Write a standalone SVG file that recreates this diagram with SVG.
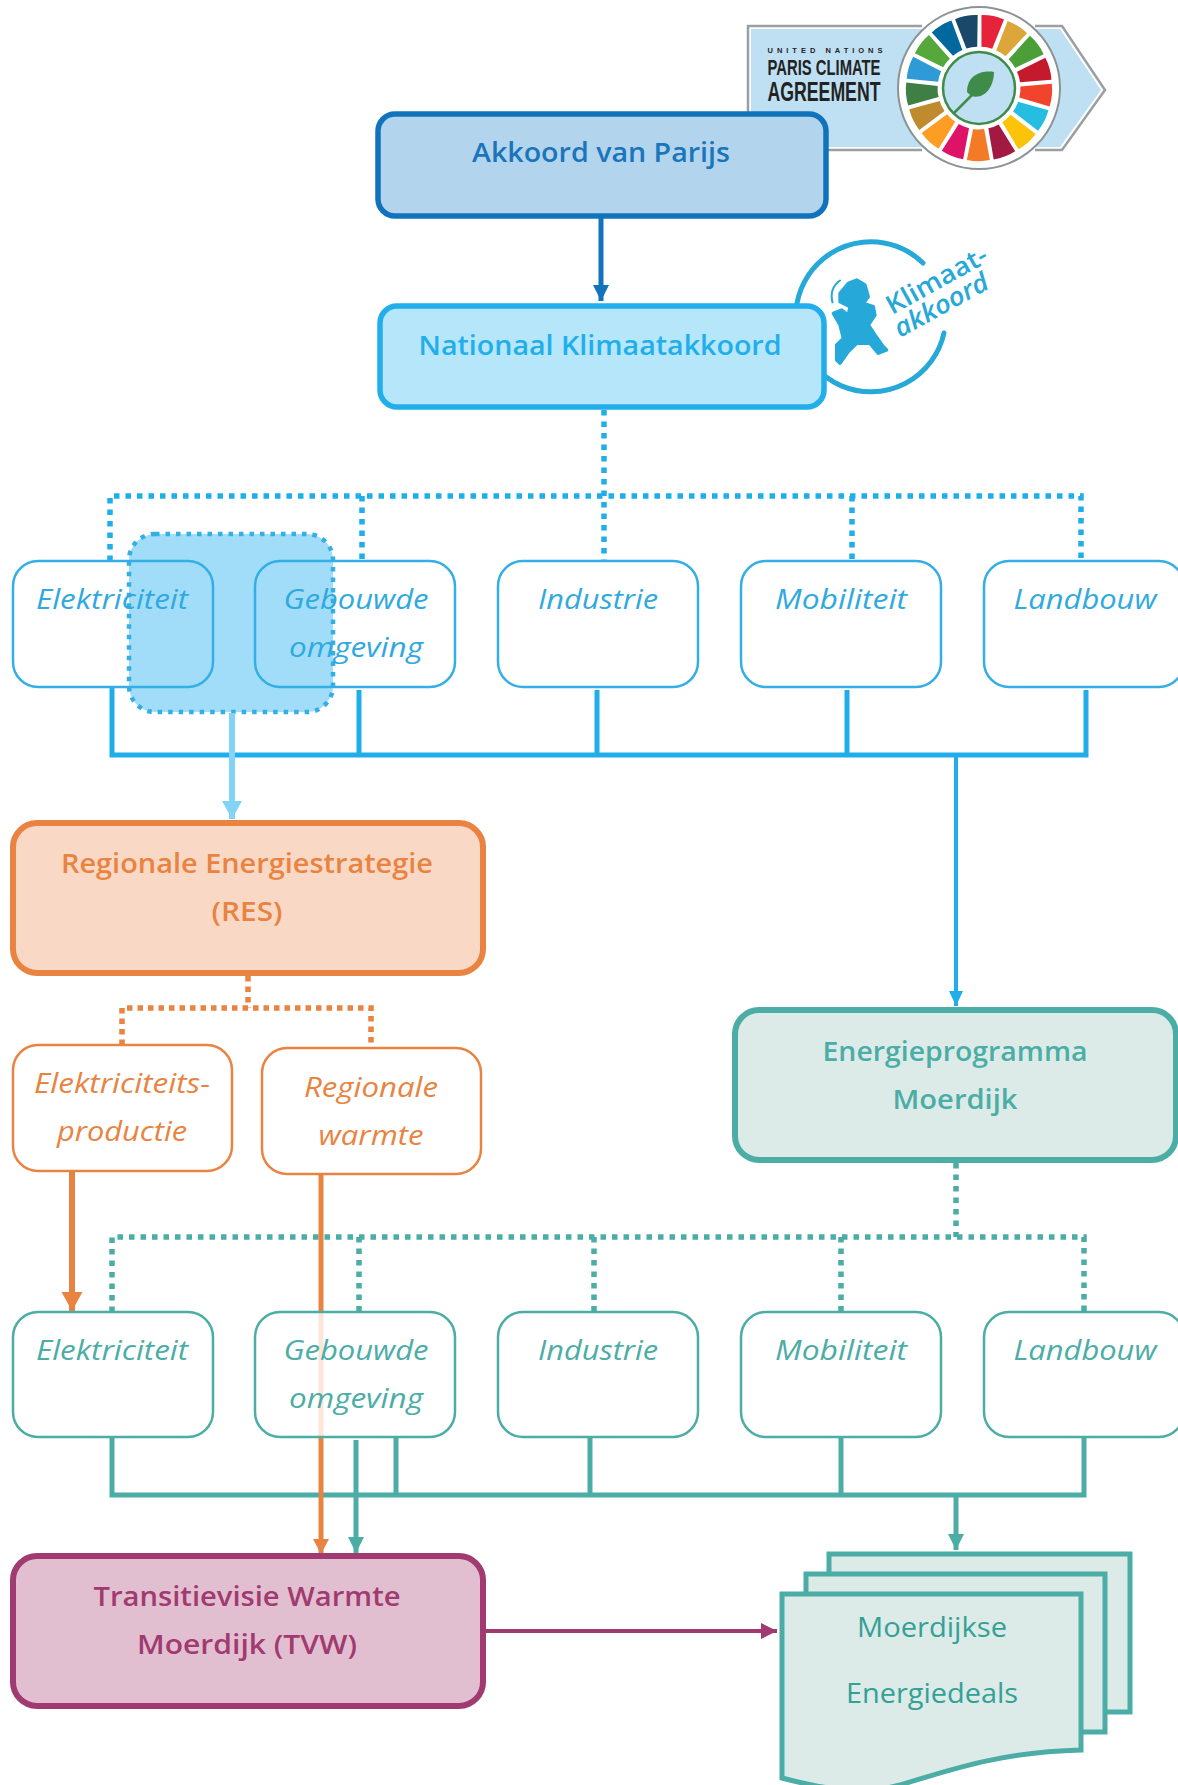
<svg xmlns="http://www.w3.org/2000/svg" width="1178" height="1785" viewBox="0 0 1178 1785">
<style>
text{font-family:"Open Sans","Liberation Sans",sans-serif;text-anchor:middle}
.t{font-size:27px;font-weight:600}
.s{font-size:27px;font-style:italic}
.b{fill:#fff;fill-opacity:.8;stroke-width:2.5}
.bb{fill:none;stroke-width:2.5}
.blue .bb{stroke:#34afe6}.blue text{fill:#2fa9e0}
.green .b{stroke:#4bada5}.green text{fill:#4bada5}
.or .b,.or .bb{stroke:#e98341}.or text{fill:#e98341}
.l{fill:none}
.lb{stroke:#20aeea}.lg{stroke:#4bada5}.lo{stroke:#e98341}
.dot{stroke-dasharray:5.5 6;stroke-width:5.5}
.doc{fill:#dcebe8;stroke:#4bada5;stroke-width:5}
.logo{font-family:"Liberation Sans",sans-serif;font-weight:700;fill:#222}
.kl{font-family:"Open Sans",sans-serif;font-size:26px;font-weight:600;fill:#26a9d8}
</style>
<defs>
<path id="w" d="M-5.5,-41 L-11.5,-72 Q0,-74.5 11.5,-72 L5.5,-41 Q0,-42 -5.5,-41Z"/>
<marker id="a1" markerUnits="userSpaceOnUse" markerWidth="16" markerHeight="18" refX="16" refY="8" orient="auto"><path d="M0,0L16,8L0,16Z" fill="#1273bd"/></marker>
<marker id="a2" markerUnits="userSpaceOnUse" markerWidth="20" markerHeight="22" refX="18" refY="10" orient="auto"><path d="M0,0L18,10L0,20Z" fill="#83d3f6"/></marker>
<marker id="a3" markerUnits="userSpaceOnUse" markerWidth="16" markerHeight="18" refX="15" refY="8" orient="auto"><path d="M0,1L15,8L0,15Z" fill="#20aeea"/></marker>
<marker id="a4" markerUnits="userSpaceOnUse" markerWidth="20" markerHeight="22" refX="19" refY="10.5" orient="auto"><path d="M0,0L19,10.5L0,21Z" fill="#e98341"/></marker>
<marker id="a5" markerUnits="userSpaceOnUse" markerWidth="16" markerHeight="18" refX="15" refY="8" orient="auto"><path d="M0,0L15,8L0,16Z" fill="#e98341"/></marker>
<marker id="a6" markerUnits="userSpaceOnUse" markerWidth="17" markerHeight="18" refX="16" refY="8" orient="auto"><path d="M0,0L16,8L0,16Z" fill="#4bada5"/></marker>
<marker id="a7" markerUnits="userSpaceOnUse" markerWidth="17" markerHeight="18" refX="16" refY="8" orient="auto"><path d="M0,0L16,8L0,16Z" fill="#a13a70"/></marker>
</defs>
<rect width="1178" height="1785" fill="#fff"/>

<g id="logo-paris">
<path d="M751,29H1060L1101,90L1060,147H751Z" fill="#bfe0f3"/>
<path d="M922,26H748V150H922M1035,26H1062L1105,90L1062,150H1035" fill="none" stroke="#9a9fa3" stroke-width="2.5"/>
<text class="logo" x="825" y="53" font-size="7.5" textLength="115" lengthAdjust="spacing">UNITED NATIONS</text>
<text class="logo" x="824" y="75" font-size="22" textLength="113" lengthAdjust="spacingAndGlyphs">PARIS CLIMATE</text>
<text class="logo" x="824" y="101" font-size="27" textLength="113" lengthAdjust="spacingAndGlyphs">AGREEMENT</text>
<g transform="translate(979,88)">
<circle r="81" fill="#fff" stroke="#8c9396" stroke-width="2"/>
<use href="#w" fill="#e5243b" transform="rotate(11)"/>
<use href="#w" fill="#dda63a" transform="rotate(32.2)"/>
<use href="#w" fill="#4c9f38" transform="rotate(53.4)"/>
<use href="#w" fill="#c5192d" transform="rotate(74.5)"/>
<use href="#w" fill="#f0442c" transform="rotate(95.7)"/>
<use href="#w" fill="#26bde2" transform="rotate(116.9)"/>
<use href="#w" fill="#fcc30b" transform="rotate(138.1)"/>
<use href="#w" fill="#a21942" transform="rotate(159.3)"/>
<use href="#w" fill="#f37b25" transform="rotate(180.5)"/>
<use href="#w" fill="#dd1367" transform="rotate(201.6)"/>
<use href="#w" fill="#fd9d24" transform="rotate(222.8)"/>
<use href="#w" fill="#bf8b2e" transform="rotate(244)"/>
<use href="#w" fill="#3f7e44" transform="rotate(265.2)"/>
<use href="#w" fill="#2f9bd6" transform="rotate(286.4)"/>
<use href="#w" fill="#56a83c" transform="rotate(307.6)"/>
<use href="#w" fill="#00689d" transform="rotate(328.7)"/>
<use href="#w" fill="#19486a" transform="rotate(349.9)"/>
<circle r="36" fill="#bfe0f3" stroke="#3f8c4a" stroke-width="2.5"/>
<path d="M-12,4C-12,-14 4,-18 15,-16C15,-2 6,12 -8,8Z" fill="#3f8c4a"/>
<path d="M-25,25L-2,2" stroke="#3f8c4a" stroke-width="2.5" fill="none"/>
</g>
</g>

<g id="logo-klimaat">
<path d="M923,263A75,75 0 1 0 944,333" fill="none" stroke="#26a9d8" stroke-width="5" stroke-linecap="round"/>
<g transform="translate(820,235) scale(.3333)" fill="#26a9d8" stroke="#26a9d8" stroke-linejoin="round">
<path stroke-width="10" d="M60,175L85,145L110,135L135,150L145,185L130,205L160,215L165,240L145,270L165,300L190,335L200,345L175,355L150,325L110,325L85,350L60,385L50,375L50,330L70,310L60,270L40,235L65,225L85,240L90,215L60,200Z"/>
<path fill="none" stroke-width="6" d="M62,135C40,150 30,175 38,205"/>
</g>
<text class="kl" transform="translate(892,315) rotate(-29)" style="text-anchor:start" textLength="112" lengthAdjust="spacingAndGlyphs">Klimaat-</text>
<text class="kl" transform="translate(900,338) rotate(-29)" style="text-anchor:start;font-style:italic" textLength="104" lengthAdjust="spacingAndGlyphs">akkoord</text>
</g>

<g id="connectors">
<path class="l" stroke="#1273bd" stroke-width="5" marker-end="url(#a1)" d="M601,216V301"/>
<g class="l lb dot">
<path d="M604,410V561"/>
<path d="M110,561V496H1081V561"/>
<path d="M362,496V561"/>
<path d="M852,496V561"/>
</g>
<g class="l lb" stroke-width="5">
<path d="M112,687V755H1086V690"/>
<path d="M359,690V755"/>
<path d="M597,690V755"/>
<path d="M847,690V755"/>
</g>
<path class="l lb" stroke-width="4" marker-end="url(#a3)" d="M956,755V1006"/>
<g class="l lo" stroke-width="5.5" stroke-dasharray="5.5 5">
<path d="M248,976V1008"/>
<path d="M122,1045V1008H371V1048"/>
</g>
<g class="l lg dot">
<path d="M956,1163V1237"/>
<path d="M112,1312V1237H1084V1312"/>
<path d="M359,1237V1312"/>
<path d="M594,1237V1312"/>
<path d="M841,1237V1312"/>
</g>
<path class="l lo" stroke-width="6" marker-end="url(#a4)" d="M72,1172V1311"/>
<g class="l lg" stroke-width="5">
<path d="M112,1438V1495H1084V1438"/>
<path d="M396,1438V1495"/>
<path d="M590,1438V1495"/>
<path d="M841,1438V1495"/>
</g>
<path class="l lg" stroke-width="5" marker-end="url(#a6)" d="M356,1440V1553"/>
<path class="l lg" stroke-width="5" marker-end="url(#a6)" d="M956,1495V1550"/>
<path class="l lo" stroke-width="5" marker-end="url(#a5)" d="M321,1175V1554"/>
<path class="l" stroke="#a13a70" stroke-width="4" marker-end="url(#a7)" d="M485,1631H777"/>
</g>

<g id="node-akkoord">
<rect x="378" y="114" width="448" height="102" rx="17" fill="#b3d4ed" stroke="#1273bd" stroke-width="5.5"/>
<text class="t" x="601" y="162" fill="#1a75bb" textLength="258" lengthAdjust="spacingAndGlyphs">Akkoord van Parijs</text>
</g>
<g id="node-nationaal">
<rect x="380" y="306" width="444" height="101" rx="17" fill="#b5e6fa" stroke="#22aeea" stroke-width="5.5"/>
<text class="t" x="600" y="355" fill="#22aeea" textLength="363" lengthAdjust="spacingAndGlyphs">Nationaal Klimaatakkoord</text>
</g>

<rect id="highlight" x="129" y="534" width="204" height="178" rx="26" fill="#6fcbf4" fill-opacity=".65" stroke="#34afe6" stroke-width="4.5" stroke-dasharray="4.5 6"/>
<path class="l" stroke="#83d3f6" stroke-width="6" marker-end="url(#a2)" d="M232,713V819"/>

<g id="sectors-klimaat" class="blue">
<g id="k-elektriciteit"><rect class="bb" x="13" y="561" width="200" height="126" rx="25"/><text class="s" x="112" y="609" textLength="152" lengthAdjust="spacingAndGlyphs">Elektriciteit</text></g>
<g id="k-gebouwde"><rect class="bb" x="255" y="561" width="200" height="126" rx="25"/><text class="s" x="356" y="609" textLength="145" lengthAdjust="spacingAndGlyphs">Gebouwde</text><text class="s" x="356" y="657" textLength="134" lengthAdjust="spacingAndGlyphs">omgeving</text></g>
<g id="k-industrie"><rect class="bb" x="498" y="561" width="200" height="126" rx="25"/><text class="s" x="598" y="609" textLength="120" lengthAdjust="spacingAndGlyphs">Industrie</text></g>
<g id="k-mobiliteit"><rect class="bb" x="741" y="561" width="200" height="126" rx="25"/><text class="s" x="841" y="609" textLength="132" lengthAdjust="spacingAndGlyphs">Mobiliteit</text></g>
<g id="k-landbouw"><rect class="bb" x="984" y="561" width="200" height="126" rx="25"/><text class="s" x="1085" y="609" textLength="143" lengthAdjust="spacingAndGlyphs">Landbouw</text></g>
</g>

<g id="node-res">
<rect x="13" y="823" width="470" height="150" rx="24" fill="#f9d9c5" stroke="#e98341" stroke-width="6"/>
<text class="t" x="247" y="873" fill="#e98341" textLength="372" lengthAdjust="spacingAndGlyphs">Regionale Energiestrategie</text>
<text class="t" x="247" y="921" fill="#e98341" textLength="71" lengthAdjust="spacingAndGlyphs">(RES)</text>
</g>
<g id="sectors-res" class="or">
<g id="r-elektriciteit"><rect class="b" x="13" y="1045" width="219" height="126" rx="25"/><text class="s" x="122" y="1093" textLength="176" lengthAdjust="spacingAndGlyphs">Elektriciteits-</text><text class="s" x="122" y="1141" textLength="130" lengthAdjust="spacingAndGlyphs">productie</text></g>
<g id="r-warmte"><rect class="b" x="262" y="1048" width="219" height="126" rx="25"/><text class="s" x="371" y="1097" textLength="134" lengthAdjust="spacingAndGlyphs">Regionale</text><text class="s" x="371" y="1145" textLength="105" lengthAdjust="spacingAndGlyphs">warmte</text></g>
</g>
<g id="node-energieprogramma">
<rect x="735" y="1010" width="441" height="150" rx="24" fill="#dcebe8" stroke="#4bada5" stroke-width="6"/>
<text class="t" x="955" y="1061" fill="#4bada5" textLength="265" lengthAdjust="spacingAndGlyphs">Energieprogramma</text>
<text class="t" x="955" y="1109" fill="#4bada5" textLength="125" lengthAdjust="spacingAndGlyphs">Moerdijk</text>
</g>
<g id="sectors-moerdijk" class="green">
<g id="m-elektriciteit"><rect class="b" x="13" y="1312" width="200" height="125" rx="25"/><text class="s" x="112" y="1360" textLength="152" lengthAdjust="spacingAndGlyphs">Elektriciteit</text></g>
<g id="m-gebouwde"><rect class="b" x="255" y="1312" width="200" height="125" rx="25"/><text class="s" x="356" y="1360" textLength="145" lengthAdjust="spacingAndGlyphs">Gebouwde</text><text class="s" x="356" y="1408" textLength="134" lengthAdjust="spacingAndGlyphs">omgeving</text></g>
<g id="m-industrie"><rect class="b" x="498" y="1312" width="200" height="125" rx="25"/><text class="s" x="598" y="1360" textLength="120" lengthAdjust="spacingAndGlyphs">Industrie</text></g>
<g id="m-mobiliteit"><rect class="b" x="741" y="1312" width="200" height="125" rx="25"/><text class="s" x="841" y="1360" textLength="132" lengthAdjust="spacingAndGlyphs">Mobiliteit</text></g>
<g id="m-landbouw"><rect class="b" x="984" y="1312" width="200" height="125" rx="25"/><text class="s" x="1085" y="1360" textLength="143" lengthAdjust="spacingAndGlyphs">Landbouw</text></g>
</g>
<g id="node-tvw">
<rect x="13" y="1556" width="470" height="150" rx="24" fill="#e1bfd0" stroke="#a13a70" stroke-width="6"/>
<text class="t" x="247" y="1606" fill="#a13a70" textLength="307" lengthAdjust="spacingAndGlyphs">Transitievisie Warmte</text>
<text class="t" x="247" y="1654" fill="#a13a70" textLength="220" lengthAdjust="spacingAndGlyphs">Moerdijk (TVW)</text>
</g>
<g id="node-energiedeals">
<rect class="doc" x="829" y="1554" width="301" height="158"/>
<rect class="doc" x="806" y="1574" width="299" height="158"/>
<path class="doc" d="M782,1594H1081V1750C1000,1752 950,1770 900,1785C860,1796 820,1788 782,1778Z"/>
<text x="932" y="1637" font-size="27" fill="#34a096" textLength="150" lengthAdjust="spacingAndGlyphs">Moerdijkse</text>
<text x="932" y="1703" font-size="27" fill="#34a096" textLength="172" lengthAdjust="spacingAndGlyphs">Energiedeals</text>
</g>
</svg>
